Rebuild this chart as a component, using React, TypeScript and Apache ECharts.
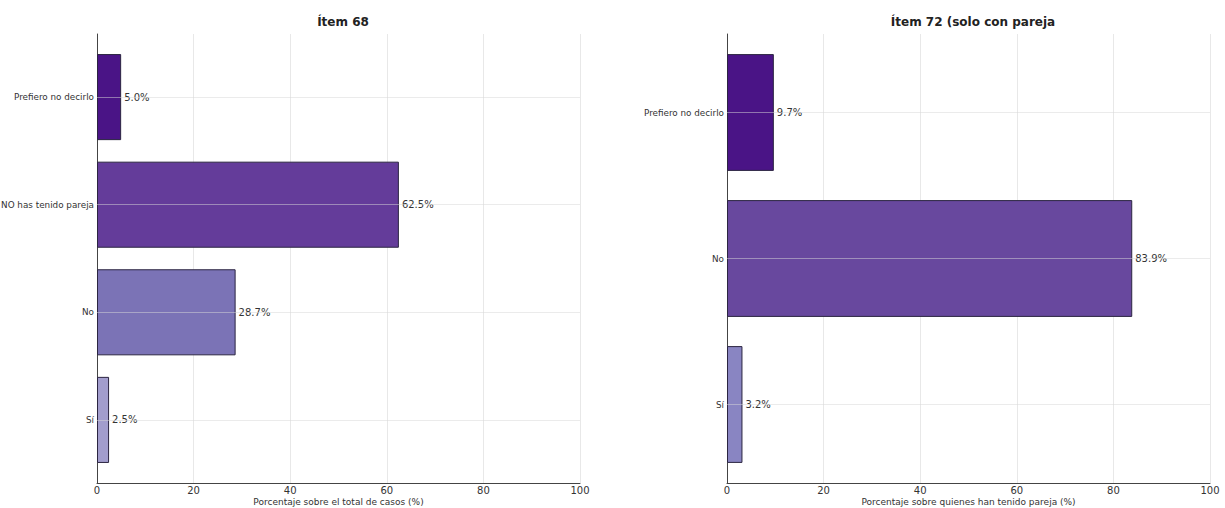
import React, { useEffect, useRef } from "react";
import * as echarts from "echarts";

const catsLeft = ["Prefiero no decirlo", "NO has tenido pareja", "No", "Sí"];
const valsLeft = [5.0, 62.5, 28.7, 2.5];
const colorsLeft = ["#4a1486", "#643c9a", "#7b73b6", "#a29dcd"];

const catsRight = ["Prefiero no decirlo", "No", "Sí"];
const valsRight = [9.7, 83.9, 3.2];
const colorsRight = ["#4a1486", "#68489e", "#8985c2"];

const titles = ["Ítem 68", "Ítem 72 (solo con pareja"];
const xNames = [
  "Porcentaje sobre el total de casos (%)",
  "Porcentaje sobre quienes han tenido pareja (%)",
];

const FONT = "DejaVu Sans";

export default function App() {
  const ref = useRef<HTMLDivElement>(null);
  useEffect(() => {
    document.body.style.margin = "0";
    if (!ref.current) return;
    const chart = echarts.init(ref.current, undefined, { renderer: "svg" });
    const frame = [
      { left: 97, right: 645 },
      { left: 727, right: 15 },
    ];
    const inset = [9.3, 5.5];
    const cats = [catsLeft, catsRight];
    const vals = [valsLeft, valsRight];
    const cols = [colorsLeft, colorsRight];
    const barPct = "80%";
    const grids: any[] = [];
    const xAxes: any[] = [];
    const yAxes: any[] = [];
    const series: any[] = [];
    frame.forEach((f, i) => {
      grids.push({ ...f, top: 34, bottom: 25, containLabel: false, outerBoundsMode: "none" });
      grids.push({
        ...f,
        top: 34 + inset[i],
        bottom: 25 + inset[i],
        containLabel: false,
        outerBoundsMode: "none",
      });
      const gA = i * 2;
      const gB = i * 2 + 1;
      xAxes.push({
        type: "value",
        gridIndex: gA,
        min: 0,
        max: 100,
        interval: 20,
        name: xNames[i],
        nameLocation: "middle",
        nameGap: 19,
        nameMoveOverlap: false,
        nameTextStyle: {
          fontFamily: FONT,
          fontSize: 9,
          color: "#333",
          verticalAlign: "middle",
          lineHeight: 10,
        },
        axisLine: { show: true, lineStyle: { color: "#444", width: 1 } },
        axisTick: { show: false },
        axisLabel: { fontFamily: FONT, fontSize: 10, color: "#333", margin: 2 },
        splitLine: { show: true, lineStyle: { color: "#e8e8e8", width: 1 } },
      });
      xAxes.push({
        type: "value",
        gridIndex: gB,
        min: 0,
        max: 100,
        interval: 20,
        show: false,
      });
      yAxes.push({
        type: "category",
        gridIndex: gA,
        data: cats[i],
        inverse: true,
        axisLine: { show: true, lineStyle: { color: "#444", width: 1 } },
        axisTick: { show: false },
        axisLabel: { show: false },
        splitLine: { show: false },
      });
      yAxes.push({
        type: "category",
        gridIndex: gB,
        data: cats[i],
        inverse: true,
        axisLine: { show: false },
        axisTick: { show: false },
        axisLabel: { fontFamily: FONT, fontSize: 8.8, color: "#333", margin: 3 },
        splitLine: { show: false },
      });
      series.push({
        type: "bar",
        xAxisIndex: gB,
        yAxisIndex: gB,
        barWidth: barPct,
        data: vals[i].map((v, j) => ({
          value: v,
          itemStyle: { color: cols[i][j], borderColor: "#2b2540", borderWidth: 1 },
        })),
        label: {
          show: true,
          position: "right",
          distance: 3,
          fontFamily: FONT,
          fontSize: 10,
          color: "#333",
          formatter: (p: any) => `${Number(p.value).toFixed(1)}%`,
        },
        markLine: {
          silent: true,
          symbol: "none",
          label: { show: false },
          lineStyle: { color: "#d8d8d8", width: 1, type: "solid", opacity: 0.5 },
          data: cats[i].map((c) => ({ yAxis: c })),
        },
      });
    });
    const option: any = {
      animation: false,
      backgroundColor: "#ffffff",
      textStyle: { fontFamily: FONT },
      title: titles.map((t, i) => ({
        text: t,
        left: i === 0 ? 338 : 968,
        top: 11,
        textAlign: "center",
        textStyle: { fontFamily: FONT, fontSize: 12, fontWeight: "bold", color: "#222" },
      })),
      grid: grids,
      xAxis: xAxes,
      yAxis: yAxes,
      series,
    };
    chart.setOption(option);
    return () => chart.dispose();
  }, []);
  return <div ref={ref} style={{ width: 1225, height: 508 }} />;
}
